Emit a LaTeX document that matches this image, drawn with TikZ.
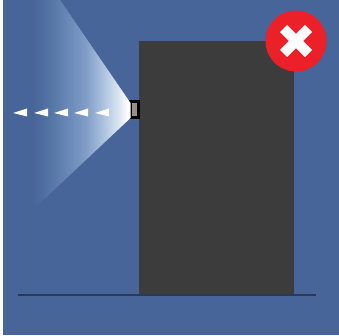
\documentclass[tikz,border=0pt]{standalone}
\usepackage{tikz}
\usetikzlibrary{shapes, shapes.geometric, positioning, calc}
\definecolor{wallblue}{HTML}{48659A}
\definecolor{towergray}{HTML}{3C3C3C}
\definecolor{groundblue}{HTML}{273A58}
\definecolor{lensgray}{HTML}{9A8F84}
\definecolor{badgered}{HTML}{EC2028}
\definecolor{beamA}{HTML}{4B6A9E}
\definecolor{beamB}{HTML}{5A7AAA}
\definecolor{beamC}{HTML}{7F9CC7}
\definecolor{beamD}{HTML}{B0C6E0}
\definecolor{beamE}{HTML}{E0EAF5}
\pgfdeclarehorizontalshading{beam}{100bp}{color(0bp)=(wallblue); color(25bp)=(wallblue); color(29bp)=(beamA); color(36.7bp)=(beamB); color(51.9bp)=(beamC); color(62bp)=(beamD); color(69.7bp)=(beamE); color(73.7bp)=(white); color(100bp)=(white)}

\begin{document}
\begin{tikzpicture}[x=1pt, y=-1pt,
  tower/.style={rectangle, fill=towergray, minimum width=155pt, minimum height=254pt, inner sep=0pt},
  lamp/.style={rectangle, draw=black, line width=2.6pt, fill=lensgray, minimum width=8pt, minimum height=16pt, inner sep=0pt},
  badge/.style={circle, fill=badgered, minimum size=61pt, inner sep=0pt},
  crossbar/.style={white, line width=10pt},
  flake/.style={fill=white, draw=none}]
\useasboundingbox (0,0) rectangle (339,336);
\fill[white] (0,0) rectangle (339,336);
\fill[wallblue] (3,0) rectangle (339,335);
\node[tower] (T) at (216.5,168) {};
\node[lamp] (L) at (134.5,109.5) {};
\shade[shading=beam] (130.5,103) -- (60,0) -- (32,0) -- (32,205) -- (38,205) -- (130.5,118) -- cycle;
\node[badge] (B) at (296,41) {};
\coordinate (G1) at (18,295);
\coordinate (G2) at (316,295);
\draw[groundblue, line width=1.6pt] (G1) -- (G2);
\draw[crossbar] ($(B)+(-12.5,-12.5)$) -- ($(B)+(12.5,12.5)$);
\draw[crossbar] ($(B)+(-12.5,12.5)$) -- ($(B)+(12.5,-12.5)$);
\foreach \x in {13, 34, 54, 74, 95}
  \fill[flake] (\x,113) -- (\x+14,108.5) -- (\x+14,116.5) -- cycle;
\end{tikzpicture}
\end{document}
